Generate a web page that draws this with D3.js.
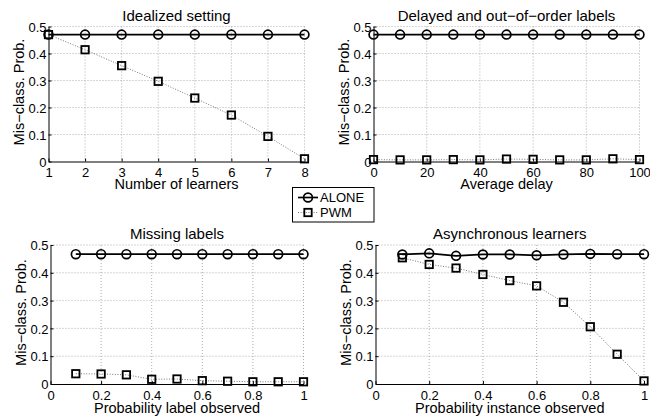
<!DOCTYPE html>
<html>
<head>
<meta charset="utf-8">
<script src="https://cdn.jsdelivr.net/npm/d3@7"></script>
<style>
  body { margin: 0; background: #fff; }
  svg { display: block; }
  text { font-family: "Liberation Sans", Arial, Helvetica, sans-serif; fill: #000; }
</style>
</head>
<body>
<svg id="chart" width="650" height="416"></svg>
<script>
// ---------- data ----------
const seriesNames = ["ALONE", "PWM"];
const yTicks = [0, 0.1, 0.2, 0.3, 0.4, 0.5];

// Panel 1: Idealized setting
const learnersX = [1, 2, 3, 4, 5, 6, 7, 8];
const learnersTicks = [1, 2, 3, 4, 5, 6, 7, 8];
const learnersAlone = [0.47, 0.47, 0.47, 0.47, 0.47, 0.47, 0.47, 0.47];
const learnersPwm = [0.47, 0.414, 0.355, 0.297, 0.235, 0.172, 0.093, 0.01];

// Panel 2: Delayed and out-of-order labels
const delayX = [0, 10, 20, 30, 40, 50, 60, 70, 80, 90, 100];
const delayTicks = [0, 20, 40, 60, 80, 100];
const delayAlone = [0.47, 0.47, 0.47, 0.47, 0.47, 0.47, 0.47, 0.47, 0.47, 0.47, 0.47];
const delayPwm = [0.007, 0.006, 0.006, 0.007, 0.006, 0.009, 0.008, 0.006, 0.006, 0.010, 0.007];

// Panel 3: Missing labels
const missingX = [0.1, 0.2, 0.3, 0.4, 0.5, 0.6, 0.7, 0.8, 0.9, 1.0];
const missingTicks = [0, 0.2, 0.4, 0.6, 0.8, 1];
const missingAlone = [0.467, 0.467, 0.467, 0.467, 0.467, 0.467, 0.467, 0.467, 0.467, 0.467];
const missingPwm = [0.037, 0.036, 0.033, 0.017, 0.018, 0.012, 0.010, 0.008, 0.008, 0.008];

// Panel 4: Asynchronous learners
const asyncX = [0.1, 0.2, 0.3, 0.4, 0.5, 0.6, 0.7, 0.8, 0.9, 1.0];
const asyncTicks = [0, 0.2, 0.4, 0.6, 0.8, 1];
const asyncAlone = [0.466, 0.47, 0.461, 0.466, 0.466, 0.463, 0.466, 0.468, 0.467, 0.467];
const asyncPwm = [0.454, 0.43, 0.417, 0.394, 0.372, 0.353, 0.294, 0.206, 0.107, 0.011];

// ---------- layout ----------
const panels = [
  { title: "Idealized setting", xlabel: "Number of learners",
    x: learnersX, ticks: learnersTicks, domain: [1, 8], alone: learnersAlone, pwm: learnersPwm,
    box: { l: 48.5, r: 304.5, t: 26.5, b: 161.5 }, labelOff: 27 },
  { title: "Delayed and out\u2212of\u2212order labels", xlabel: "Average delay",
    x: delayX, ticks: delayTicks, domain: [0, 100], alone: delayAlone, pwm: delayPwm,
    box: { l: 373.5, r: 639.5, t: 26.5, b: 161.5 }, labelOff: 27 },
  { title: "Missing labels", xlabel: "Probability label observed",
    x: missingX, ticks: missingTicks, domain: [0, 1], alone: missingAlone, pwm: missingPwm,
    box: { l: 50.5, r: 303.5, t: 245, b: 384 }, labelOff: 28.5 },
  { title: "Asynchronous learners", xlabel: "Probability instance observed",
    x: asyncX, ticks: asyncTicks, domain: [0, 1], alone: asyncAlone, pwm: asyncPwm,
    box: { l: 375.5, r: 644, t: 245, b: 384 }, labelOff: 28.5 }
];

const svg = d3.select("#chart");
const TICK_FONT = 13;
const LABEL_FONT = 14.5;
const TITLE_FONT = 15;
const pwmColor = "#777";

function circleMarker(g, cx, cy) {
  g.append("circle").attr("cx", cx).attr("cy", cy).attr("r", 4.4)
    .attr("fill", "none").attr("stroke", "#000").attr("stroke-width", 1.7);
}
function squareMarker(g, cx, cy) {
  const s = 7.4;
  g.append("rect").attr("x", cx - s / 2).attr("y", cy - s / 2).attr("width", s).attr("height", s)
    .attr("fill", "none").attr("stroke", "#000").attr("stroke-width", 1.8);
}

panels.forEach(p => {
  const b = p.box;
  const x = d3.scaleLinear().domain(p.domain).range([b.l, b.r]);
  const y = d3.scaleLinear().domain([0, 0.5]).range([b.b, b.t]);
  const g = svg.append("g");

  // grid
  const grid = g.append("g").attr("stroke", "#999").attr("stroke-width", 0.8)
    .attr("stroke-dasharray", "1,2");
  yTicks.forEach(t => {
    if (t === 0) return;
    grid.append("line").attr("x1", b.l).attr("x2", b.r).attr("y1", y(t)).attr("y2", y(t));
  });
  p.ticks.forEach(t => {
    if (x(t) <= b.l + 0.5) return;
    grid.append("line").attr("x1", x(t)).attr("x2", x(t)).attr("y1", b.t).attr("y2", b.b);
  });

  // axes (MATLAB style: inward ticks, box off)
  const xAxis = d3.axisBottom(x).tickValues(p.ticks).tickSizeInner(-3).tickSizeOuter(0)
    .tickFormat(d3.format("~g"));
  const yAxis = d3.axisLeft(y).tickValues(yTicks).tickSizeInner(-3).tickSizeOuter(0)
    .tickPadding(2).tickFormat(d3.format("~g"));

  const gx = g.append("g").attr("transform", `translate(0,${b.b})`).call(xAxis);
  const gy = g.append("g").attr("transform", `translate(${b.l},0)`).call(yAxis);
  [gx, gy].forEach(a => {
    a.selectAll("path").attr("stroke", "#000").attr("stroke-width", 1);
    a.selectAll("line").attr("stroke", "#000").attr("stroke-width", 1);
    a.selectAll("text").attr("font-size", TICK_FONT)
      .attr("font-family", '"Liberation Sans", Arial, sans-serif').attr("fill", "#000");
  });
  gx.selectAll("text").attr("y", 15.5).attr("dy", 0);
  gy.selectAll("text").attr("dy", "0.36em");

  // lines
  const pts = (vals) => p.x.map((xv, i) => [x(xv), y(vals[i])]);
  const line = d3.line();
  g.append("path").attr("d", line(pts(p.pwm))).attr("fill", "none")
    .attr("stroke", pwmColor).attr("stroke-width", 1).attr("stroke-dasharray", "1,1.6");
  g.append("path").attr("d", line(pts(p.alone))).attr("fill", "none")
    .attr("stroke", "#000").attr("stroke-width", 1.7);

  pts(p.pwm).forEach(([cx, cy]) => squareMarker(g, cx, cy));
  pts(p.alone).forEach(([cx, cy]) => circleMarker(g, cx, cy));

  // title
  g.append("text").attr("x", (b.l + b.r) / 2).attr("y", b.t - 6).attr("text-anchor", "middle")
    .attr("font-size", TITLE_FONT).text(p.title);
  // x label
  g.append("text").attr("x", (b.l + b.r) / 2).attr("y", b.b + p.labelOff).attr("text-anchor", "middle")
    .attr("font-size", LABEL_FONT).text(p.xlabel);
  // y label
  const yc = (b.t + b.b) / 2 - 2;
  g.append("text").attr("transform", `translate(${b.l - 25},${yc}) rotate(-90)`)
    .attr("text-anchor", "middle").attr("font-size", LABEL_FONT).text("Mis\u2212class. Prob.");
});

// ---------- legend ----------
const lg = svg.append("g");
lg.append("rect").attr("x", 292.5).attr("y", 187.5).attr("width", 81.5).attr("height", 34.5)
  .attr("fill", "#fff").attr("stroke", "#000").attr("stroke-width", 1);
const rows = [
  { name: seriesNames[0], y: 197.5, kind: "alone" },
  { name: seriesNames[1], y: 212.5, kind: "pwm" }
];
rows.forEach(r => {
  if (r.kind === "alone") {
    lg.append("line").attr("x1", 298).attr("x2", 318).attr("y1", r.y).attr("y2", r.y)
      .attr("stroke", "#000").attr("stroke-width", 1.7);
    circleMarker(lg, 308, r.y);
  } else {
    lg.append("line").attr("x1", 298).attr("x2", 318).attr("y1", r.y).attr("y2", r.y)
      .attr("stroke", pwmColor).attr("stroke-width", 1).attr("stroke-dasharray", "1,1.6");
    squareMarker(lg, 308, r.y);
  }
  lg.append("text").attr("x", 320).attr("y", r.y).attr("dy", "0.36em")
    .attr("font-size", TICK_FONT).text(r.name);
});
</script>
</body>
</html>
